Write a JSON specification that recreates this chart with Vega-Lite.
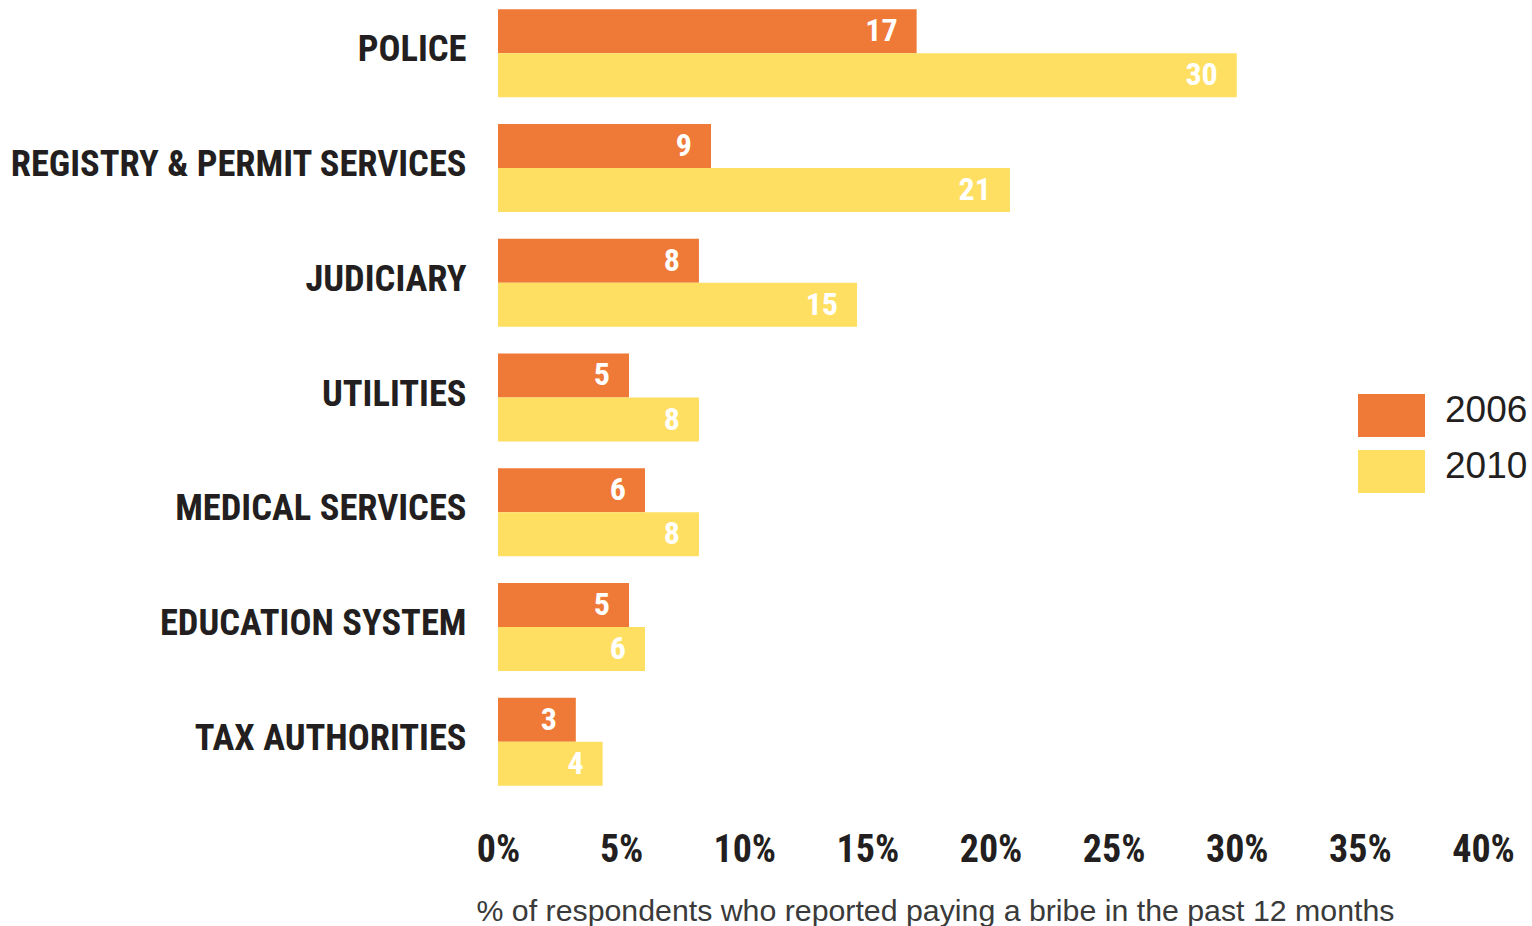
{
  "$schema": "https://vega.github.io/schema/vega-lite/v6.json",
  "autosize": {"type": "none"},
  "padding": {"left": 498, "top": 0, "right": 49, "bottom": 131},
  "width": 985,
  "height": 795,
  "background": "white",
  "config": {"view": {"stroke": null}},
  "data": {
    "values": [
      {"sector": "POLICE", "year": "2006", "value": 17.0},
      {"sector": "POLICE", "year": "2010", "value": 30.0},
      {"sector": "REGISTRY & PERMIT SERVICES", "year": "2006", "value": 8.65},
      {"sector": "REGISTRY & PERMIT SERVICES", "year": "2010", "value": 20.79},
      {"sector": "JUDICIARY", "year": "2006", "value": 8.16},
      {"sector": "JUDICIARY", "year": "2010", "value": 14.58},
      {"sector": "UTILITIES", "year": "2006", "value": 5.32},
      {"sector": "UTILITIES", "year": "2010", "value": 8.16},
      {"sector": "MEDICAL SERVICES", "year": "2006", "value": 5.97},
      {"sector": "MEDICAL SERVICES", "year": "2010", "value": 8.16},
      {"sector": "EDUCATION SYSTEM", "year": "2006", "value": 5.32},
      {"sector": "EDUCATION SYSTEM", "year": "2010", "value": 5.97},
      {"sector": "TAX AUTHORITIES", "year": "2006", "value": 3.16},
      {"sector": "TAX AUTHORITIES", "year": "2010", "value": 4.25}
    ]
  },
  "encoding": {
    "y": {
      "field": "sector",
      "type": "nominal",
      "sort": null,
      "scale": {"paddingInner": 0.233, "paddingOuter": 0.08},
      "axis": {
        "title": null,
        "domain": false,
        "ticks": false,
        "labelFont": "Roboto Condensed",
        "labelFontWeight": "bold",
        "labelFontSize": 36.5,
        "labelColor": "#231F20",
        "labelPadding": 32,
        "labelLimit": 0,
        "labelOffset": -3
      }
    },
    "yOffset": {"field": "year", "type": "nominal", "sort": ["2006", "2010"]},
    "x": {
      "field": "value",
      "type": "quantitative",
      "scale": {"domain": [0, 40], "nice": false},
      "axis": {
        "title": "% of respondents who reported paying a bribe in the past 12 months",
        "values": [0, 5, 10, 15, 20, 25, 30, 35, 40],
        "labelExpr": "datum.value + '%'",
        "domain": false,
        "ticks": false,
        "grid": false,
        "labelFlush": false,
        "labelFont": "Roboto Condensed",
        "labelFontWeight": "bold",
        "labelFontSize": 38,
        "labelColor": "#231F20",
        "labelBaseline": "top",
        "labelPadding": 36,
        "titleFont": "Liberation Sans",
        "titleFontWeight": "normal",
        "titleFontSize": 30.3,
        "titleColor": "#3a3a3a",
        "titleAnchor": "start",
        "titleAlign": "left",
        "titleBaseline": "alphabetic",
        "titleX": -22,
        "titleY": 125
      }
    }
  },
  "layer": [
    {
      "mark": {"type": "bar", "opacity": 1},
      "encoding": {
        "color": {
          "field": "year",
          "type": "nominal",
          "scale": {"domain": ["2006", "2010"], "range": ["#EF7936", "#FEDF62"]},
          "legend": {
            "title": null,
            "orient": "none",
            "legendX": 860,
            "legendY": 382,
            "padding": 0,
            "symbolType": "M-1,-0.642H1V0.642H-1Z",
            "symbolSize": 4489,
            "symbolStrokeWidth": 0,
            "symbolOpacity": 1,
            "labelFont": "Liberation Sans",
            "labelFontSize": 37,
            "labelColor": "#231F20",
            "labelOffset": 20,
            "rowPadding": -11,
            "encode": {"labels": {"update": {"dy": {"value": -5}}}}
          }
        }
      }
    },
    {
      "mark": {
        "type": "text",
        "align": "right",
        "baseline": "middle",
        "dx": -19,
        "color": "white",
        "font": "Roboto Condensed",
        "fontWeight": "bold",
        "fontSize": 32
      },
      "encoding": {
        "text": {"field": "value", "type": "quantitative", "format": ".0f"}
      }
    }
  ]
}
